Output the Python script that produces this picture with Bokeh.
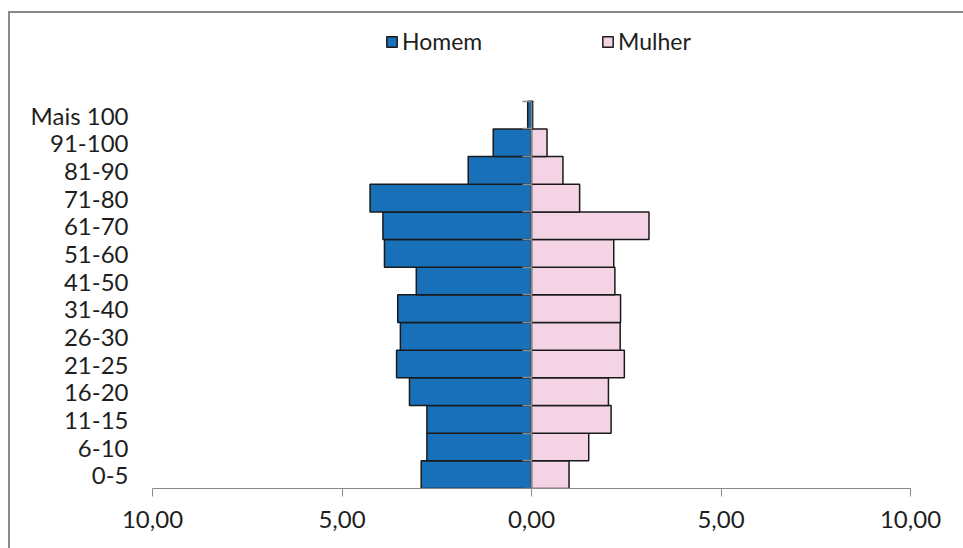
from bokeh.plotting import figure
from bokeh.models import (ColumnDataSource, Range1d, FixedTicker, LinearAxis,
                          CustomJSTickFormatter, Legend, LegendItem)
from bokeh.embed import file_html
from bokeh.resources import INLINE

# ---- data ----
categories = ["0-5", "6-10", "11-15", "16-20", "21-25", "26-30", "31-40",
              "41-50", "51-60", "61-70", "71-80", "81-90", "91-100", "Mais 100"]
homem = [2.91, 2.76, 2.76, 3.22, 3.56, 3.46, 3.53, 3.04, 3.88, 3.92, 4.26, 1.67, 1.01, 0.10]
mulher = [0.99, 1.51, 2.10, 2.03, 2.45, 2.34, 2.35, 2.20, 2.17, 3.10, 1.27, 0.83, 0.41, 0.03]
x_ticks = [-10, -5, 0, 5, 10]

FONT = "Lato"
HOMEM_COLOR = "#1770B8"
MULHER_COLOR = "#F4D4E4"
GRAY = "#8a8a8a"

idx = list(range(len(categories)))
src = ColumnDataSource(dict(
    y=idx,
    h_left=[-v for v in homem], zero=[0] * len(idx),
    m_right=mulher,
))

p = figure(width=955, height=537, output_backend="svg", toolbar_location=None,
           x_range=Range1d(-10, 10), y_range=Range1d(-0.5, 16.6),
           min_border_left=142, min_border_right=55, min_border_top=2,
           min_border_bottom=62)
p.margin = (11, 0, 0, 8)
p.styles = {"border-top": "2px solid #8a8a8a", "border-left": "2px solid #8a8a8a"}
p.outline_line_color = None
p.grid.visible = False
p.background_fill_color = "white"
p.border_fill_color = "white"

rh = p.hbar(y="y", left="h_left", right="zero", height=1, source=src,
            fill_color=HOMEM_COLOR, line_color="#1a1a1a", line_width=1.5)
rm = p.hbar(y="y", left="zero", right="m_right", height=1, source=src,
            fill_color=MULHER_COLOR, line_color="#1a1a1a", line_width=1.5)

# x axis
xa = p.xaxis[0]
xa.ticker = FixedTicker(ticks=x_ticks)
xa.formatter = CustomJSTickFormatter(code="return Math.abs(tick).toFixed(2).replace('.', ',');")
xa.axis_line_color = GRAY
xa.major_tick_line_color = GRAY
xa.major_tick_out = 8
xa.major_tick_in = 0
xa.minor_tick_line_color = None
xa.major_label_text_font = FONT
xa.major_label_text_font_size = "24px"
xa.major_label_text_color = "#1e1e1e"
xa.major_label_standoff = 14

# category labels axis
ya = p.yaxis[0]
ya.ticker = FixedTicker(ticks=idx)
ya.major_label_overrides = {i: c for i, c in enumerate(categories)}
ya.axis_line_color = None
ya.major_tick_line_color = None
ya.minor_tick_line_color = None
ya.major_label_text_font = FONT
ya.major_label_text_font_size = "24px"
ya.major_label_text_color = "#1e1e1e"
ya.major_label_standoff = 18

# zero axis with boundary ticks
bounds = [i - 0.5 for i in idx] + [idx[-1] + 0.5]
za = LinearAxis(fixed_location=0, ticker=FixedTicker(ticks=bounds),
                formatter=CustomJSTickFormatter(code="return '';"),
                bounds=(bounds[0], bounds[-1]))
za.axis_line_color = GRAY
za.axis_line_width = 1.5
za.major_tick_line_color = GRAY
za.major_tick_line_width = 1.5
za.major_tick_out = 9
za.major_tick_in = 0
za.minor_tick_line_color = None
za.major_label_text_font_size = "1px"
za.major_label_standoff = 0
p.add_layout(za, "left")

legend = Legend(items=[LegendItem(label="Homem", renderers=[rh]),
                       LegendItem(label="Mulher", renderers=[rm])],
                orientation="horizontal", location=(233, 433),
                glyph_width=13, glyph_height=13, label_standoff=4,
                label_width=199, spacing=0, padding=0, margin=0,
                label_text_font=FONT, label_text_font_size="23px",
                label_text_color="#1e1e1e", border_line_color=None,
                background_fill_alpha=0)
p.add_layout(legend, "center")

open("out.html", "w").write(file_html(p, INLINE))
